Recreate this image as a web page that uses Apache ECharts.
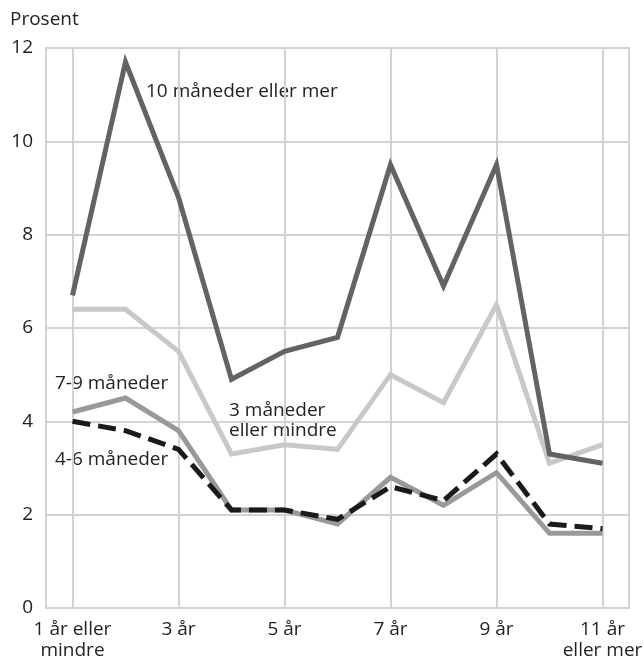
<!DOCTYPE html>
<html lang="en">
<head>
    <meta charset="UTF-8">
    <script src="https://cdn.jsdelivr.net/npm/echarts/dist/echarts.min.js"></script>
    <style>
        body, html { margin: 0; padding: 0; width: 100%; height: 100%; background: #fff; }
        #chart { width: 644px; height: 661px; }
    </style>
</head>
<body>
    <div id="chart"></div>
    <script>
        const categories = ['1 år eller\nmindre', '2 år', '3 år', '4 år', '5 år', '6 år', '7 år', '8 år', '9 år', '10 år', '11 år\neller mer'];
        const tiMnd = [6.7, 11.7, 8.8, 4.9, 5.5, 5.8, 9.5, 6.9, 9.5, 3.3, 3.1];
        const treMnd = [6.4, 6.4, 5.5, 3.3, 3.5, 3.4, 5.0, 4.4, 6.5, 3.1, 3.5];
        const syvNiMnd = [4.2, 4.5, 3.8, 2.1, 2.1, 1.8, 2.8, 2.2, 2.9, 1.6, 1.6];
        const fireSeksMnd = [4.0, 3.8, 3.4, 2.1, 2.1, 1.9, 2.6, 2.3, 3.3, 1.8, 1.7];

        const font = '"Open Sans", "Noto Sans", sans-serif';
        const fs = 19;
        const gridColor = '#d3d3d3';
        const textColor = '#222';

        const chart = echarts.init(document.getElementById('chart'));
        chart.setOption({
            animation: false,
            textStyle: { fontFamily: font },
            grid: {
                left: 46, right: 15, top: 48, bottom: 53,
                outerBoundsMode: 'none',
                containLabel: false,
                show: true, borderColor: gridColor, borderWidth: 2
            },
            xAxis: {
                type: 'category',
                data: categories,
                boundaryGap: true,
                axisLine: { lineStyle: { color: gridColor, width: 2 } },
                axisTick: { show: true, inside: true, length: 9, alignWithLabel: true, lineStyle: { color: gridColor, width: 2 } },
                axisLabel: { interval: 1, color: textColor, fontSize: fs, lineHeight: 21, margin: 11, fontFamily: font, hideOverlap: false },
                splitLine: {
                    show: true,
                    alignWithLabel: true,
                    interval: 1,
                    lineStyle: { color: gridColor, width: 2 }
                }
            },
            yAxis: {
                type: 'value',
                min: 0, max: 12, interval: 2,
                axisLine: { show: true, lineStyle: { color: gridColor, width: 2 } },
                axisTick: { show: false },
                axisLabel: { color: textColor, fontSize: fs, margin: 13, fontFamily: font },
                splitLine: { lineStyle: { color: gridColor, width: 2 } }
            },
            graphic: [
                { type: 'text', left: 10, top: 10, style: { text: 'Prosent', font: fs + 'px ' + font, fill: textColor } },
                { type: 'text', left: 146, top: 82, style: { text: '10 måneder eller mer', font: fs + 'px ' + font, fill: textColor } },
                { type: 'text', left: 55, top: 374, style: { text: '7-9 måneder', font: fs + 'px ' + font, fill: textColor } },
                { type: 'text', left: 229, top: 401, style: { text: '3 måneder\neller mindre', font: fs + 'px ' + font, fill: textColor, lineHeight: 20 } },
                { type: 'text', left: 55, top: 450, style: { text: '4-6 måneder', font: fs + 'px ' + font, fill: textColor } }
            ],
            series: [
                { name: '3 måneder eller mindre', type: 'line', data: treMnd, symbol: 'none', lineStyle: { color: '#c8c8c8', width: 5, join: 'miter' } },
                { name: '10 måneder eller mer', type: 'line', data: tiMnd, symbol: 'none', lineStyle: { color: '#636363', width: 5, join: 'miter' } },
                { name: '7-9 måneder', type: 'line', data: syvNiMnd, symbol: 'none', lineStyle: { color: '#999999', width: 5, join: 'miter' } },
                { name: '4-6 måneder', type: 'line', data: fireSeksMnd, symbol: 'none', lineStyle: { color: '#1a1a1a', width: 5, type: [18, 8], join: 'miter' } }
            ]
        });
    </script>
</body>
</html>
